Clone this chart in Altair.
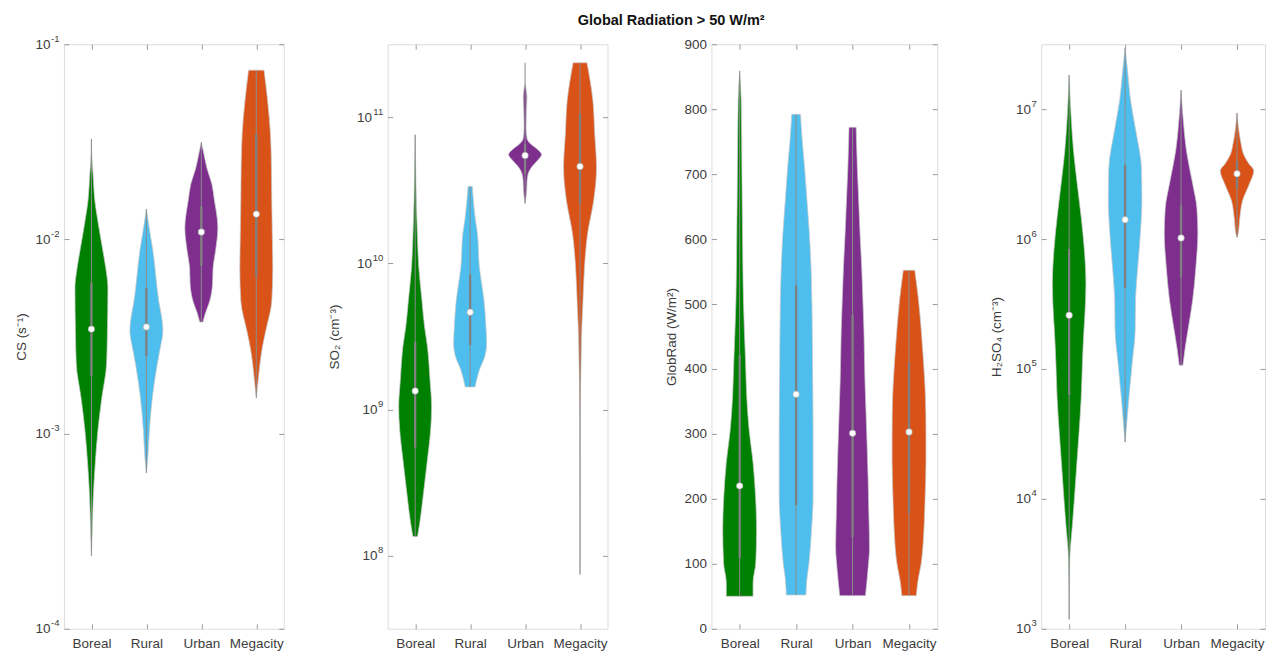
import altair as alt
import pandas as pd

CATEGORIES = ["Boreal", "Rural", "Urban", "Megacity"]
COLORS = ["#008000", "#4DBEEE", "#7E2F8E", "#D95319"]

# ---------------- Panel 1: CS (s^-1)  (outline: log10 value, relative half-width)
cs_boreal_log10 = [-1.487, -1.600, -1.667, -1.805, -1.892, -1.974, -2.062, -2.149, -2.251, -2.472, -2.641, -2.815, -2.985, -3.154, -3.328, -3.497, -3.626]
cs_boreal_width = [0.00, 0.04, 0.10, 0.21, 0.36, 0.52, 0.70, 0.87, 1.00, 0.97, 0.92, 0.63, 0.39, 0.23, 0.11, 0.05, 0.00]
cs_rural_log10 = [-1.846, -1.974, -2.062, -2.149, -2.318, -2.421, -2.472, -2.559, -2.641, -2.815, -2.985, -3.123, -3.200]
cs_rural_width = [0.00, 0.23, 0.40, 0.52, 0.75, 0.96, 1.00, 0.84, 0.66, 0.36, 0.18, 0.09, 0.00]
cs_urban_log10 = [-1.503, -1.549, -1.636, -1.718, -1.805, -1.892, -1.944, -2.062, -2.149, -2.231, -2.318, -2.385, -2.426]
cs_urban_width = [0.00, 0.12, 0.34, 0.64, 0.80, 0.96, 1.00, 0.86, 0.71, 0.68, 0.51, 0.23, 0.10]
cs_mega_log10 = [-1.133, -1.292, -1.462, -1.636, -1.805, -1.974, -2.149, -2.318, -2.472, -2.559, -2.641, -2.728, -2.815]
cs_mega_width = [0.47, 0.69, 0.86, 0.92, 0.94, 0.97, 1.00, 0.94, 0.57, 0.36, 0.22, 0.11, 0.00]
cs_median = [0.00345, 0.00354, 0.01086, 0.01343]
cs_q1 = [0.00198, 0.00251, 0.00728, 0.00638]
cs_q3 = [0.00594, 0.00561, 0.01476, 0.0345]
cs_min = [2.37e-4, 6.3e-4, 3.75e-3, 1.53e-3]
cs_max = [0.0326, 0.01425, 0.0315, 0.0736]

# ---------------- Panel 2: SO2 (cm^-3)
so2_boreal_log10 = [10.881, 10.724, 10.431, 10.206, 9.974, 9.749, 9.565, 9.428, 9.203, 9.018, 8.861, 8.636, 8.404, 8.226, 8.131]
so2_boreal_width = [0.00, 0.02, 0.07, 0.13, 0.22, 0.41, 0.57, 0.75, 0.90, 1.00, 0.94, 0.72, 0.48, 0.28, 0.14]
so2_rural_log10 = [10.527, 10.315, 10.206, 9.974, 9.749, 9.565, 9.456, 9.360, 9.271, 9.155]
so2_rural_width = [0.13, 0.30, 0.44, 0.56, 0.84, 0.96, 1.00, 0.88, 0.56, 0.30]
so2_urban_log10 = [11.230, 11.134, 11.045, 10.929, 10.854, 10.820, 10.786, 10.745, 10.704, 10.657, 10.616, 10.568, 10.500, 10.411]
so2_urban_width = [0.00, 0.11, 0.08, 0.06, 0.12, 0.31, 0.69, 1.00, 0.75, 0.38, 0.19, 0.12, 0.10, 0.00]
so2_mega_log10 = [11.373, 11.114, 10.889, 10.657, 10.432, 10.206, 9.974, 9.749, 9.565, 9.319, 9.155, 8.930, 7.872]
so2_mega_width = [0.42, 0.78, 0.89, 1.00, 0.83, 0.46, 0.27, 0.18, 0.11, 0.06, 0.03, 0.01, 0.00]
so2_median = [1.34e9, 4.64e9, 5.48e10, 4.61e10]
so2_q1 = [5.5e8, 2.77e9, 4.1e10, 2.57e10]
so2_q3 = [2.9e9, 8.4e9, 6.6e10, 1.06e11]
so2_min = [1.35e8, 1.43e9, 2.57e10, 7.45e7]
so2_max = [7.6e10, 3.36e10, 2.36e11, 2.36e11]

# ---------------- Panel 3: GlobRad (W/m^2)  (outline: value, relative half-width)
gr_boreal_value = [859, 813, 710, 608, 506, 409, 357, 306, 256, 203, 152, 101, 71, 50]
gr_boreal_width = [0.00, 0.09, 0.13, 0.17, 0.22, 0.35, 0.42, 0.56, 0.79, 0.94, 1.00, 0.95, 0.79, 0.79]
gr_rural_value = [792, 762, 710, 660, 609, 556, 506, 409, 306, 203, 152, 101, 75, 52]
gr_rural_width = [0.26, 0.33, 0.50, 0.64, 0.78, 0.88, 0.93, 0.97, 1.00, 1.00, 0.91, 0.76, 0.63, 0.58]
gr_urban_value = [772, 710, 660, 609, 556, 506, 460, 383, 306, 229, 178, 126, 91, 51]
gr_urban_width = [0.21, 0.28, 0.36, 0.44, 0.54, 0.61, 0.67, 0.73, 0.83, 0.92, 0.96, 1.00, 0.91, 0.76]
gr_mega_value = [552, 506, 460, 409, 357, 306, 255, 203, 152, 101, 71, 51]
gr_mega_width = [0.34, 0.56, 0.72, 0.86, 0.97, 1.00, 1.00, 0.95, 0.88, 0.72, 0.51, 0.43]
gr_median = [220, 361, 301, 303]
gr_q1 = [109, 190, 141, 178]
gr_q3 = [421, 529, 483, 410]
gr_min = [50, 52, 51, 51]
gr_max = [859, 792, 772, 552]

# ---------------- Panel 4: H2SO4 (cm^-3)
h2so4_boreal_log10 = [7.263, 6.936, 6.679, 6.426, 6.165, 5.911, 5.658, 5.397, 5.297, 5.044, 4.783, 4.530, 4.276, 4.015, 3.762, 3.632, 3.509, 3.072]
h2so4_boreal_width = [0.00, 0.12, 0.26, 0.48, 0.72, 0.91, 1.00, 0.93, 0.88, 0.79, 0.72, 0.60, 0.46, 0.32, 0.17, 0.08, 0.03, 0.00]
h2so4_rural_log10 = [7.471, 7.317, 7.064, 6.810, 6.550, 6.297, 6.043, 5.782, 5.529, 5.298, 5.044, 4.783, 4.583, 4.437]
h2so4_rural_width = [0.00, 0.13, 0.33, 0.67, 0.97, 1.00, 0.91, 0.75, 0.62, 0.60, 0.42, 0.23, 0.10, 0.00]
h2so4_urban_log10 = [7.147, 6.932, 6.679, 6.426, 6.242, 6.043, 5.782, 5.529, 5.321, 5.168, 5.029]
h2so4_urban_width = [0.00, 0.12, 0.32, 0.69, 0.94, 1.00, 0.88, 0.69, 0.44, 0.25, 0.11]
h2so4_mega_log10 = [6.971, 6.856, 6.733, 6.656, 6.579, 6.526, 6.426, 6.296, 6.165, 6.043, 6.012]
h2so4_mega_width = [0.00, 0.09, 0.24, 0.38, 0.71, 1.00, 0.74, 0.33, 0.17, 0.07, 0.00]
h2so4_median = [2.59e5, 1.41e6, 1.02e6, 3.18e6]
h2so4_q1 = [6.3e4, 4.2e5, 5.1e5, 2.44e6]
h2so4_q3 = [8.4e5, 3.73e6, 1.84e6, 4.0e6]
h2so4_min = [1.18e3, 2.74e4, 1.07e5, 1.03e6]
h2so4_max = [1.83e7, 2.96e7, 1.4e7, 9.35e6]

FONT = "Liberation Sans"
H = 585
HALF = 0.3  # max half-width of a violin, in category units
FRAME = "#9a9a9a"
TEXT = "#3c3c3c"
LABEL_SIZE = 13.5
EXP_SIZE = 9.5
PAD = 5

CAT_EXPR = " : ".join(f"datum.value == {i + 1} ? '{c}'" for i, c in enumerate(CATEGORIES)) + " : ''"
EXP_EXPR = "'' + round(log(datum.value) / LN10)"


def exp_width(e):
    # approximate rendered width of the exponent text (Liberation Sans metrics)
    s = str(e)
    return EXP_SIZE * sum(0.333 if c == "-" else 0.556 for c in s)


def violin_table(values_list, widths_list, is_log):
    rows = []
    for i, (cat, vals, ws) in enumerate(zip(CATEGORIES, values_list, widths_list)):
        for v, w in zip(vals, ws):
            rows.append({"cat": cat, "idx": i + 1, "v": 10 ** v if is_log else v, "w": w})
    return pd.DataFrame(rows)


def summary_table(med, q1, q3, lo, hi):
    return pd.DataFrame({"cat": CATEGORIES, "idx": [1, 2, 3, 4], "med": med,
                         "q1": q1, "q3": q3, "lo": lo, "hi": hi})


def panel(vdf, sdf, W, ytype, ydomain, yvalues, exps, ytitle, titlex):
    xscale = alt.Scale(domain=[0.5, 4.5], nice=False, zero=False)
    yscale = alt.Scale(type=ytype, domain=ydomain, nice=False, zero=False)
    common = dict(domain=False, grid=False, title=None)
    x_lab = alt.Axis(orient="bottom", values=[1, 2, 3, 4], labelExpr=CAT_EXPR, ticks=False, tickSize=0,
                     labelPadding=8, labelFont=FONT, labelFontSize=LABEL_SIZE, labelColor=TEXT, **common)
    ytitle_args = dict(title=ytitle, titleFont=FONT, titleFontSize=LABEL_SIZE, titleFontWeight="normal",
                       titleColor=TEXT, titleAngle=270, titleBaseline="middle", titleAlign="center",
                       titleX=-titlex, titleY=H / 2)
    if exps is None:
        y_lab = alt.Axis(orient="left", values=yvalues, ticks=False, tickSize=0, labelPadding=PAD,
                         labelFont=FONT, labelFontSize=LABEL_SIZE, labelColor=TEXT, domain=False,
                         grid=False, **ytitle_args)
        y_exp = None
    else:
        # mantissa "10", pushed left by the width of its exponent
        cond = None
        pads = {e: round(PAD + exp_width(e) + 0.5, 1) for e in exps}
        base_pad = pads[exps[0]]
        diff = [(v, pads[e]) for v, e in zip(yvalues, exps) if pads[e] != base_pad]
        if diff:
            thr = min(v for v, _ in diff)
            cond = {"condition": {"test": f"datum.value >= {thr * 0.5}", "value": diff[0][1]},
                    "value": base_pad}
        y_lab = alt.Axis(orient="left", values=yvalues, labelExpr="'10'", ticks=False, tickSize=0,
                         labelPadding=cond if cond else base_pad,
                         labelFont=FONT, labelFontSize=LABEL_SIZE, labelColor=TEXT, domain=False,
                         grid=False, **ytitle_args)
        y_exp = alt.Axis(orient="left", values=yvalues, labelExpr=EXP_EXPR, ticks=False, tickSize=0,
                         labelPadding=PAD, labelOffset=-6, labelFont=FONT, labelFontSize=EXP_SIZE,
                         labelColor=TEXT, **common)
    tick = dict(labels=False, ticks=True, tickSize=5, tickColor=FRAME, tickWidth=1, **common)
    x_t1 = alt.Axis(orient="top", offset=-H, values=[1, 2, 3, 4], **tick)
    x_t2 = alt.Axis(orient="bottom", offset=-H, values=[1, 2, 3, 4], **tick)
    y_t1 = alt.Axis(orient="right", offset=-W, values=yvalues, **tick)
    y_t2 = alt.Axis(orient="left", offset=-W, values=yvalues, **tick)
    color = alt.Color("cat:N", scale=alt.Scale(domain=CATEGORIES, range=COLORS), legend=None)

    area = alt.Chart(vdf).transform_calculate(
        xa=f"datum.idx - {HALF} * datum.w", xb=f"datum.idx + {HALF} * datum.w"
    ).mark_area(orient="horizontal", interpolate="monotone", stroke="#c8c8c8", strokeWidth=0.7,
                opacity=1).encode(
        y=alt.Y("v:Q", scale=yscale, axis=y_lab),
        x=alt.X("xa:Q", scale=xscale, axis=x_lab),
        x2="xb:Q",
        color=color,
        detail="cat:N",
    )
    whisker = alt.Chart(sdf).mark_rule(color="#8c8c8c", strokeWidth=1).encode(
        x=alt.X("idx:Q", scale=xscale, axis=x_t1),
        y=alt.Y("lo:Q", scale=yscale, axis=y_t1),
        y2="hi:Q",
    )
    box = alt.Chart(sdf).mark_rule(color="#808080", strokeWidth=2.3).encode(
        x=alt.X("idx:Q", scale=xscale, axis=x_t2),
        y=alt.Y("q1:Q", scale=yscale, axis=y_t2),
        y2="q3:Q",
    )
    med = alt.Chart(sdf).mark_circle(color="white", opacity=1, size=42, stroke="#a0a0a0",
                                     strokeWidth=0.6).encode(
        x=alt.X("idx:Q", scale=xscale, axis=None),
        y=alt.Y("med:Q", scale=yscale, axis=y_exp),
    )
    return alt.layer(area, whisker, box, med).resolve_axis(
        x="independent", y="independent").properties(width=W, height=H)


p1 = panel(violin_table([cs_boreal_log10, cs_rural_log10, cs_urban_log10, cs_mega_log10],
                        [cs_boreal_width, cs_rural_width, cs_urban_width, cs_mega_width], True),
           summary_table(cs_median, cs_q1, cs_q3, cs_min, cs_max),
           220, "log", [1e-4, 1e-1], [1e-4, 1e-3, 1e-2, 1e-1], [-4, -3, -2, -1],
           "CS (s\u207b\u00b9)", 42)
p2 = panel(violin_table([so2_boreal_log10, so2_rural_log10, so2_urban_log10, so2_mega_log10],
                        [so2_boreal_width, so2_rural_width, so2_urban_width, so2_mega_width], True),
           summary_table(so2_median, so2_q1, so2_q3, so2_min, so2_max),
           220, "log", [10 ** 7.5, 10 ** 11.5], [1e8, 1e9, 1e10, 1e11], [8, 9, 10, 11],
           "SO\u2082 (cm\u207b\u00b3)", 53)
p3 = panel(violin_table([gr_boreal_value, gr_rural_value, gr_urban_value, gr_mega_value],
                        [gr_boreal_width, gr_rural_width, gr_urban_width, gr_mega_width], False),
           summary_table(gr_median, gr_q1, gr_q3, gr_min, gr_max),
           226, "linear", [0, 900], list(range(0, 901, 100)), None,
           "GlobRad (W/m\u00b2)", 40)
p4 = panel(violin_table([h2so4_boreal_log10, h2so4_rural_log10, h2so4_urban_log10, h2so4_mega_log10],
                        [h2so4_boreal_width, h2so4_rural_width, h2so4_urban_width, h2so4_mega_width], True),
           summary_table(h2so4_median, h2so4_q1, h2so4_q3, h2so4_min, h2so4_max),
           224, "log", [1e3, 10 ** 7.5], [1e3, 1e4, 1e5, 1e6, 1e7], [3, 4, 5, 6, 7],
           "H\u2082SO\u2084 (cm\u207b\u00b3)", 45)

chart = alt.hconcat(p1, p2, p3, p4, spacing=104, bounds="flush").properties(
    title=alt.TitleParams("Global Radiation > 50 W/m\u00b2", anchor="middle", font=FONT, fontSize=14.5,
                          fontWeight="bold", color="#111111", offset=4, dx=31),
    padding={"left": 14, "top": 13, "right": 4, "bottom": 2},
).configure_view(stroke=FRAME, strokeWidth=1).configure(font=FONT, background="white")

chart.save("out.html", embed_options={"renderer": "svg", "actions": False})
